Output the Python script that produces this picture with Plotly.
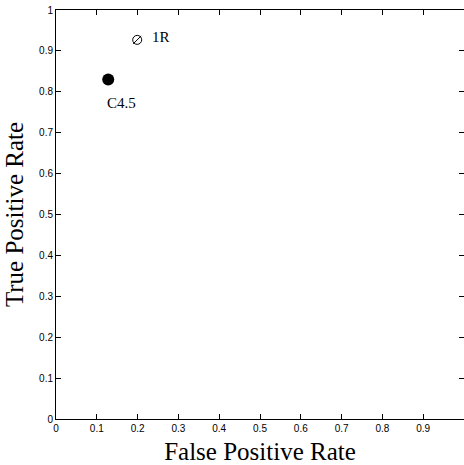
import plotly.graph_objects as go

classifiers = ["C4.5", "1R"]
fpr = [0.128, 0.199]
tpr = [0.830, 0.927]
ticks = [0, 0.1, 0.2, 0.3, 0.4, 0.5, 0.6, 0.7, 0.8, 0.9, 1]
tick_labels = ["0", "0.1", "0.2", "0.3", "0.4", "0.5", "0.6", "0.7", "0.8", "0.9", "1"]

fig = go.Figure()
# C4.5 solid point
fig.add_trace(go.Scatter(x=[fpr[0]], y=[tpr[0]], mode="markers",
                         marker=dict(symbol="circle", size=12, color="black"),
                         showlegend=False, hoverinfo="skip"))
# 1R hatched point
fig.add_trace(go.Scatter(x=[fpr[1]], y=[tpr[1]], mode="markers",
                         marker=dict(symbol="circle-open", size=9, color="black",
                                     line=dict(width=1, color="black")),
                         showlegend=False, hoverinfo="skip"))
fig.add_trace(go.Scatter(x=[fpr[1]], y=[tpr[1]], mode="markers",
                         marker=dict(symbol="line-ne-open", size=8, color="black",
                                     line=dict(width=1, color="black")),
                         showlegend=False, hoverinfo="skip"))

label_font = dict(family="Liberation Serif", size=15, color="black")
fig.add_annotation(x=fpr[0], y=tpr[0], text=classifiers[0], showarrow=False,
                   xanchor="left", yanchor="middle", xshift=-3, yshift=-23,
                   font=label_font)
fig.add_annotation(x=fpr[1], y=tpr[1], text=classifiers[1], showarrow=False,
                   xanchor="left", yanchor="middle", xshift=13, yshift=3,
                   font=label_font)

axis_common = dict(range=[0, 1], tickvals=ticks, ticktext=tick_labels,
                   ticks="inside", ticklen=5, tickwidth=1, tickcolor="black",
                   showline=True, linecolor="black", linewidth=1, mirror="ticks",
                   showgrid=False, zeroline=False,
                   tickfont=dict(family="Liberation Sans", size=10, color="black"))

fig.update_layout(
    width=464, height=465,
    margin=dict(l=56, r=0, t=10, b=46),
    paper_bgcolor="white", plot_bgcolor="white",
    xaxis=dict(**axis_common,
               title=dict(text="False Positive Rate", standoff=9,
                          font=dict(family="Liberation Serif", size=25, color="black"))),
    yaxis=dict(**axis_common,
               title=dict(text="True Positive Rate", standoff=8,
                          font=dict(family="Liberation Serif", size=25, color="black"))),
)

fig.write_html("out.html")
